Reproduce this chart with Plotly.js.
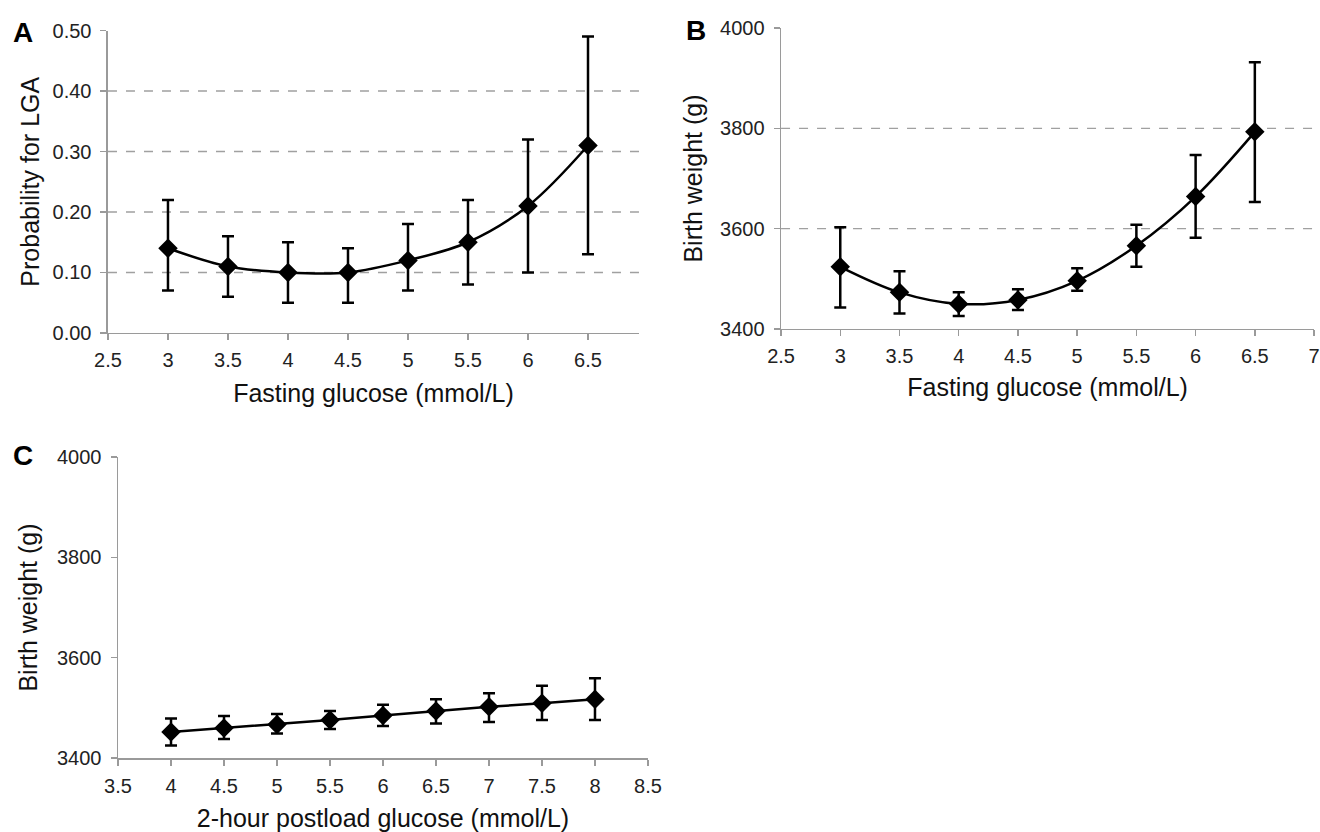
<!DOCTYPE html>
<html>
<head>
<meta charset="utf-8">
<script src="https://cdn.plot.ly/plotly-3.0.1.min.js"></script>
<style>html,body{margin:0;padding:0;background:#fff;}#chart{width:1320px;height:832px;}</style>
</head>
<body>
<div id="chart"></div>
<script>
// Panel A: probability for LGA vs fasting glucose
const xA = [3, 3.5, 4, 4.5, 5, 5.5, 6, 6.5];
const yA = [0.14, 0.11, 0.10, 0.10, 0.12, 0.15, 0.21, 0.31];
const hiA = [0.22, 0.16, 0.15, 0.14, 0.18, 0.22, 0.32, 0.49];
const loA = [0.07, 0.06, 0.05, 0.05, 0.07, 0.08, 0.10, 0.13];

// Panel B: birth weight vs fasting glucose
const xB = [3, 3.5, 4, 4.5, 5, 5.5, 6, 6.5];
const yB = [3524, 3473, 3450, 3458, 3496, 3566, 3664, 3793];
const hiB = [3603, 3515, 3473, 3479, 3521, 3608, 3747, 3932];
const loB = [3443, 3431, 3426, 3438, 3476, 3524, 3582, 3653];

// Panel C: birth weight vs 2-hour postload glucose
const xC = [4, 4.5, 5, 5.5, 6, 6.5, 7, 7.5, 8];
const yC = [3452, 3460, 3467, 3476, 3485, 3494, 3502, 3509, 3517];
const hiC = [3479, 3484, 3488, 3494, 3506, 3517, 3529, 3544, 3559];
const loC = [3425, 3438, 3449, 3458, 3464, 3469, 3472, 3476, 3476];

const gridA = [0.1, 0.2, 0.3, 0.4];
const gridB = [3600, 3800];
const panelLabels = ['A', 'B', 'C'];
const titleFasting = 'Fasting glucose (mmol/L)';
const titlePostload = '2-hour postload glucose (mmol/L)';
const titleLGA = 'Probability for LGA';
const titleBW = 'Birth weight (g)';

const FONT = 'Arial, "Liberation Sans", Helvetica, sans-serif';

function trace(x, y, hi, lo, xa, ya, shape) {
  return {
    x: x, y: y, xaxis: xa, yaxis: ya, type: 'scatter', mode: 'lines+markers',
    line: {color: '#000', width: 2.5, shape: shape, smoothing: 1},
    marker: {symbol: 'diamond', size: 15, color: '#000'},
    error_y: {type: 'data', symmetric: false,
      array: hi.map((v, i) => v - y[i]),
      arrayminus: lo.map((v, i) => y[i] - v),
      color: '#000', thickness: 2.5, width: 6},
    showlegend: false, hoverinfo: 'x+y'
  };
}

const data = [
  trace(xA, yA, hiA, loA, 'x', 'y', 'spline'),
  trace(xB, yB, hiB, loB, 'x2', 'y2', 'spline'),
  trace(xC, yC, hiC, loC, 'x3', 'y3', 'linear')
];

const axisCommon = {
  showline: true, linecolor: '#9a9a9a', linewidth: 1.5,
  ticks: 'outside', tickcolor: '#9a9a9a', ticklen: 6, tickwidth: 1.5,
  showgrid: false, zeroline: false,
  tickfont: {family: FONT, size: 20, color: '#222'},
  automargin: false, fixedrange: true
};
function ax(extra) { return Object.assign({}, axisCommon, extra); }
const titleFont = {family: FONT, size: 25, color: '#111'};

const gridShape = (val, xr, yr) => ({
  type: 'line', xref: xr + ' domain', yref: yr, x0: 0, x1: 1, y0: val, y1: val,
  line: {color: '#a0a0a0', width: 1.3, dash: 'dash'}, layer: 'below'
});

const shapes = gridA.map(v => gridShape(v, 'x', 'y')).concat(gridB.map(v => gridShape(v, 'x2', 'y2')));

const letterFont = {family: FONT, size: 28, color: '#000'};
const annotations = [
  {text: '<b>' + panelLabels[0] + '</b>', xref: 'paper', yref: 'paper', x: 0.008, y: 0.961, xanchor: 'left', yanchor: 'middle', showarrow: false, font: letterFont},
  {text: '<b>' + panelLabels[1] + '</b>', xref: 'paper', yref: 'paper', x: 0.5185, y: 0.963, xanchor: 'left', yanchor: 'middle', showarrow: false, font: letterFont},
  {text: '<b>' + panelLabels[2] + '</b>', xref: 'paper', yref: 'paper', x: 0.008, y: 0.453, xanchor: 'left', yanchor: 'middle', showarrow: false, font: letterFont}
];

const layout = {
  width: 1320, height: 832,
  margin: {l: 0, r: 0, t: 0, b: 0},
  paper_bgcolor: '#fff', plot_bgcolor: '#fff',
  font: {family: FONT, color: '#111'},
  xaxis: ax({domain: [0.0818, 0.4841], range: [2.5, 6.925], tick0: 2.5, dtick: 0.5, anchor: 'y', ticklabelstandoff: 3,
    title: {text: titleFasting, font: titleFont, standoff: 14}}),
  yaxis: ax({domain: [0.5998, 0.9633], range: [0, 0.5], dtick: 0.1, tickformat: '.2f', anchor: 'x', ticklabelstandoff: 5,
    title: {text: titleLGA, font: titleFont, standoff: 6}}),
  xaxis2: ax({domain: [0.5917, 0.9955], range: [2.5, 7], tick0: 2.5, dtick: 0.5, anchor: 'y2', ticklabelstandoff: 3,
    title: {text: titleFasting, font: titleFont, standoff: 12}}),
  yaxis2: ax({domain: [0.6046, 0.9663], range: [3400, 4000], dtick: 200, anchor: 'x2', ticklabelstandoff: 5,
    title: {text: titleBW, font: titleFont, standoff: 10}}),
  xaxis3: ax({domain: [0.0894, 0.4909], range: [3.5, 8.5], tick0: 3.5, dtick: 0.5, anchor: 'y3', ticklabelstandoff: 3,
    title: {text: titlePostload, font: titleFont, standoff: 18}}),
  yaxis3: ax({domain: [0.0889, 0.4507], range: [3400, 4000], dtick: 200, anchor: 'x3', ticklabelstandoff: 5,
    title: {text: titleBW, font: titleFont, standoff: 12}}),
  shapes: shapes,
  annotations: annotations
};

Plotly.newPlot('chart', data, layout, {displayModeBar: false, staticPlot: true});
</script>
</body>
</html>
